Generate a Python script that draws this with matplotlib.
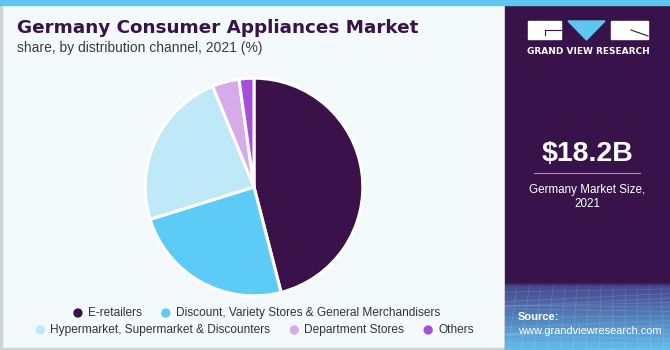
import numpy as np
import matplotlib.pyplot as plt
from matplotlib.patches import Rectangle, Polygon

# ---------- data ----------
channels = [
    "E-retailers",
    "Discount, Variety Stores & General Merchandisers",
    "Hypermarket, Supermarket & Discounters",
    "Department Stores",
    "Others",
]
shares = [46.0, 24.2, 23.6, 4.0, 2.2]
colors = ["#3a1148", "#5ccbf5", "#bfe9f8", "#d5abec", "#a64fd9"]
legend_rows = [[0, 1], [2, 3, 4]]

title = "Germany Consumer Appliances Market"
subtitle = "share, by distribution channel, 2021 (%)"
market_size = "$18.2B"
market_label = "Germany Market Size,\n2021"

W, H = 670, 350
purple = "#381349"
bg = "#f4f9fc"

fig = plt.figure(figsize=(W / 100, H / 100), dpi=100)
fig.patch.set_facecolor(bg)

# overlay axes in pixel coords (y down)
base = fig.add_axes([0, 0, 1, 1])
base.set_xlim(0, W)
base.set_ylim(H, 0)
base.axis("off")

# borders and right panel
base.add_patch(Rectangle((0, 0), 1.5, H, color="#cfd3d6", zorder=1))
base.add_patch(Rectangle((0, H - 2.5), 505, 2.5, color="#cfd3d6", zorder=1))
base.add_patch(Rectangle((505, 0), W - 505, H, color=purple, zorder=1))
base.add_patch(Rectangle((0, 0), W, 4.5, color="#5ec6ef", zorder=3))

# gradient block at the bottom of the side panel
t = np.linspace(0, 1, 100)[:, None, None]
c0 = np.array([0x38, 0x13, 0x49]) / 255
c1 = np.array([0x45, 0x48, 0x8e]) / 255
c2 = np.array([0x62, 0xbd, 0xec]) / 255
img = np.where(t < 0.06, c0 + (c1 - c0) * (t / 0.06),
               c1 + (c2 - c1) * ((t - 0.06) / 0.94))
base.imshow(img, extent=(505, W, H, 282), aspect="auto", zorder=2,
            interpolation="bilinear")
# faint mesh lines
for k in range(14):
    yy = 292 + k * 4.5
    base.plot([505, W], [yy + 6 * np.sin(k), yy - 3], color="white", alpha=0.12,
              lw=0.6, zorder=2)
for k in range(16):
    xx = 505 + k * 12
    base.plot([xx, xx - 10 + k], [286, H], color="white", alpha=0.12, lw=0.6, zorder=2)

# logo
base.add_patch(Rectangle((528, 21), 33, 18, color="white", zorder=4))
base.plot([545, 561], [30, 30], color=purple, lw=0.8, zorder=5)
base.plot([545, 545], [30, 35], color=purple, lw=0.8, zorder=5)
base.add_patch(Polygon([[568, 21], [605, 21], [586.5, 40]], color="#5ec6ef", zorder=4))
base.add_patch(Rectangle((611, 21), 37, 18, color="white", zorder=4))
base.plot([631, 648], [30, 36], color=purple, lw=0.8, zorder=5)
base.text(588, 51, "GRAND VIEW RESEARCH", color="white", fontsize=6.5,
          fontweight="bold", ha="center", va="center", zorder=5,
          family="DejaVu Sans")

# market size
base.text(587, 154, market_size, color="white", fontsize=20.5, fontweight="bold",
          ha="center", va="center", family="Liberation Sans", zorder=5)
base.plot([534, 640], [173, 173], color="#a88fb8", lw=0.8, zorder=5)
base.text(587, 197, market_label, color="white", fontsize=8.4, ha="center",
          va="center", family="Liberation Sans", linespacing=1.2, zorder=5)

# source
base.text(518, 317, "Source:", color="white", fontsize=8, fontweight="bold",
          ha="left", va="center", family="Liberation Sans", zorder=5)
base.text(518, 331, "www.grandviewresearch.com", color="white", fontsize=7.9,
          ha="left", va="center", family="Liberation Sans", zorder=5)

# title
base.text(17, 28, title, color=purple, fontsize=13.2, fontweight="bold",
          ha="left", va="center", family="DejaVu Sans", zorder=5)
base.text(17, 48, subtitle, color="#3b3b3b", fontsize=10, ha="left",
          va="center", family="Liberation Sans", zorder=5)

# ---------- pie ----------
cx, cy, r = 254, 187, 111
pax = fig.add_axes([(cx - r) / W, (H - cy - r) / H, 2 * r / W, 2 * r / H])
pax.pie(shares, colors=colors, startangle=90, counterclock=False,
        wedgeprops=dict(edgecolor="white", linewidth=2.2))
pax.set_xlim(-1.02, 1.02)
pax.set_ylim(-1.02, 1.02)
pax.axis("off")

# ---------- legend (flowing rows, centred) ----------
fig.canvas.draw()
renderer = fig.canvas.get_renderer()
row_y = [313, 330]
gap_marker = 10
gap_item = 24
centres = [259, 257]
fs_leg = 8.6
for ri, row in enumerate(legend_rows):
    widths = []
    for i in row:
        tt = base.text(0, 0, channels[i], fontsize=fs_leg, family="Liberation Sans")
        bb = tt.get_window_extent(renderer)
        widths.append(bb.width)
        tt.remove()
    total = sum(widths) + len(row) * gap_marker + (len(row) - 1) * gap_item
    x = centres[ri] - total / 2
    for i, w in zip(row, widths):
        base.scatter([x], [row_y[ri]], s=45, color=colors[i], zorder=6,
                     edgecolor="none")
        base.text(x + gap_marker, row_y[ri], channels[i], fontsize=fs_leg,
                  family="Liberation Sans", color="#333333", ha="left",
                  va="center", zorder=6)
        x += gap_marker + w + gap_item

fig.savefig("out.png", dpi=100, facecolor=bg)
